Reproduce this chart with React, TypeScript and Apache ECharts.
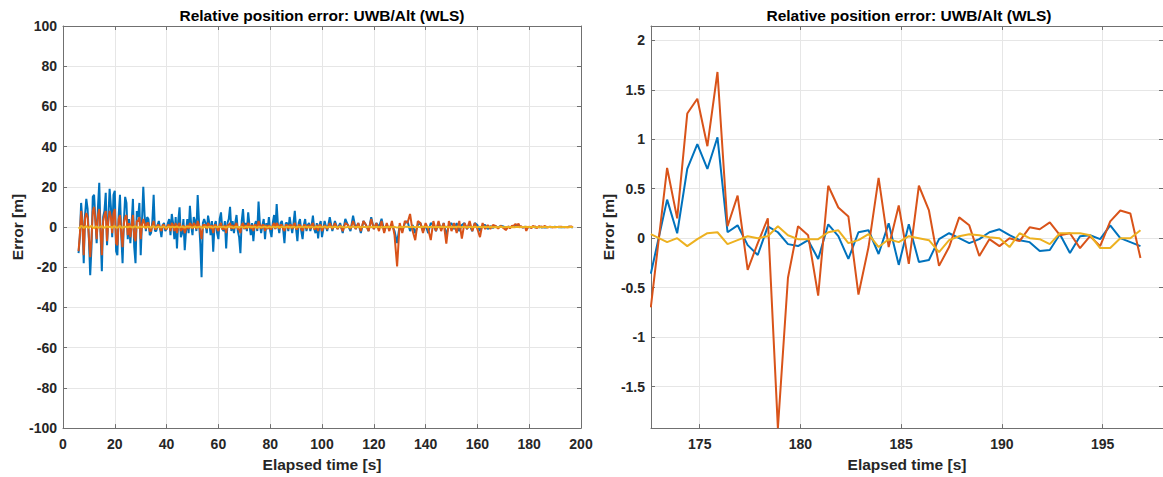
import React, { useEffect, useRef } from "react";
import * as echarts from "echarts";

// ---------- data ----------
const chartTitle = "Relative position error: UWB/Alt (WLS)";
const xName = "Elapsed time [s]";
const yName = "Error [m]";

// full run: 0.5 s samples from 6 to 99.5 s, then 1 s samples to 172 s
const runTime = [
  6, 6.5, 7, 7.5, 8, 8.5, 9, 9.5, 10, 10.5,
  11, 11.5, 12, 12.5, 13, 13.5, 14, 14.5, 15, 15.5,
  16, 16.5, 17, 17.5, 18, 18.5, 19, 19.5, 20, 20.5,
  21, 21.5, 22, 22.5, 23, 23.5, 24, 24.5, 25, 25.5,
  26, 26.5, 27, 27.5, 28, 28.5, 29, 29.5, 30, 30.5,
  31, 31.5, 32, 32.5, 33, 33.5, 34, 34.5, 35, 35.5,
  36, 36.5, 37, 37.5, 38, 38.5, 39, 39.5, 40, 40.5,
  41, 41.5, 42, 42.5, 43, 43.5, 44, 44.5, 45, 45.5,
  46, 46.5, 47, 47.5, 48, 48.5, 49, 49.5, 50, 50.5,
  51, 51.5, 52, 52.5, 53, 53.5, 54, 54.5, 55, 55.5,
  56, 56.5, 57, 57.5, 58, 58.5, 59, 59.5, 60, 60.5,
  61, 61.5, 62, 62.5, 63, 63.5, 64, 64.5, 65, 65.5,
  66, 66.5, 67, 67.5, 68, 68.5, 69, 69.5, 70, 70.5,
  71, 71.5, 72, 72.5, 73, 73.5, 74, 74.5, 75, 75.5,
  76, 76.5, 77, 77.5, 78, 78.5, 79, 79.5, 80, 80.5,
  81, 81.5, 82, 82.5, 83, 83.5, 84, 84.5, 85, 85.5,
  86, 86.5, 87, 87.5, 88, 88.5, 89, 89.5, 90, 90.5,
  91, 91.5, 92, 92.5, 93, 93.5, 94, 94.5, 95, 95.5,
  96, 96.5, 97, 97.5, 98, 98.5, 99, 99.5,
  100, 101, 102, 103, 104, 105,
  106, 107, 108, 109, 110, 111, 112, 113, 114, 115,
  116, 117, 118, 119, 120, 121, 122, 123, 124, 125,
  126, 127, 128, 129, 130, 131, 132, 133, 134, 135,
  136, 137, 138, 139, 140, 141, 142, 143, 144, 145,
  146, 147, 148, 149, 150, 151, 152, 153, 154, 155,
  156, 157, 158, 159, 160, 161, 162, 163, 164, 165,
  166, 167, 168, 169, 170, 171, 172,
];
const runBlue = [
  -13, -5, 12, 3, -18, 6, 14, 9, -6, -24,
  -10, 15, 16, 4, -8, 10, 22, -3, -22, 5,
  8, 17, -9, 4, 19, 10, -5, 16, 18, -12,
  -14, 6, 16, -4, -18, 3, 15, 12, -6, 4,
  -8, 2, 14, -10, -18, 8, 5, 12, -14, 3,
  20, 6, -2, 5, 4, -4, -3, 3, 16, -2,
  -2, 1, 3, -1, -5, 1, 2, -2, -1, 2,
  4, -4, 6.5, 2, -6, 5, -10.6, 3, 9.8, -5,
  -3, 4, -11.5, -2, 4, -3, 10.6, 1, -4, 5,
  3, -2, 15.9, 3, -8, -25, 2, 4, 2, -3,
  5.7, 2, -4, 3, -12.3, 1, 3, -3, -6, 4,
  7.3, -1, -2, 3, -10.6, 2, 4, 10.1, -2, 3,
  -3, 2, 6, -2, -5, -13, 3, 8.9, -1, 2,
  -2, 7.3, 1, -4, 2, -7, 1, 3, -2, 12.7,
  2, -3, 1, 4, -6, 2, -1, 5, -2, -5,
  2, 6, -1, 11.4, 1, -3, 2, 3, -1, -8,
  2, 2, -2, 5, 1, -3, 2, 8.1, -1, -7,
  2, 4, -2, -6, 1, 4, -2, 1, 2, -2,
  1, 5.7, -1, -3, 2, -5.7, 1, 3,
  -5, 3, -2, 4.9, -2, 3,
  -1, 2, -3, 4, 1, -2, 5.7, -1, 2, -3,
  3, 1, -2, 4.9, -1, 2, 0, 4.1, -2, 1,
  -1, 1, -2, -8, 1, -2, 2, 3, -2, 1,
  -3, 1, 2, -2, 1, -3, 2, 1, -2, 2,
  -1, 2, -4, 1, 2, -1, 2, -2, 1, 2,
  -1, 1, -2, 2, 1, -2, 1, 1, -1, 0.5,
  -0.5, 0.5, -0.3, 0.6, 0.3, -0.4, 0.2,
];
const runOrange = [
  -12, -4, 8, 2, -14, 4, 7, 5, -5, -15,
  -6, 8, 10, 3, -6, 6, 9, -2, -14, 3,
  6, 8, -7, 3, 8, 5, -3, 7, 9, -8,
  -9, 4, 6, -3, -10, 2, 5, 6, -4, 2,
  -5, 1, 6, -5, -7, 3, 3, 5, -6, 1,
  4, 2, -1, 2, 2, -2, -2, 1, 3, -1,
  -1, 1, 1, -1, -2, 1, 1, -1, -1, 1,
  1, -2, 2, 1, -2, 2, -3, 1, 2, -2,
  -1, 1, -3, -1, 1, -1, 2, 1, -1, 2,
  1, -1, 3, 1, -2, -6, 1, 1, 1, -1,
  2, 1, -1, 1, -3, 1, 1, -1, -2, 1,
  2, -1, -1, 1, -3, 1, 1, 2, -1, 1,
  -1, 1, 2, -1, -1, -3, 1, 2, -1, 1,
  -1, 2, 1, -1, 1, -2, 1, 1, -1, 3,
  1, -1, 1, 1, -2, 1, -1, 1, -1, -1,
  1, 2, -1, 2, 1, -1, 1, 1, -1, -2,
  1, 1, -1, 1, 1, -1, 1, 2, -1, -1,
  1, 1, -1, -2, 1, 1, -1, 0.5, 1, -1,
  1, 2, -1, -1, 1, -2, 1, 1,
  -2, 1, -1, 2, -1, 2,
  -1, 1, -2, 2, 1, -1, 3, -1, 2, -2,
  3, 1, -2, 4, -1, 2, -2, 3, -3, 2,
  -2, 3, -4, -19.6, 2, -3, 3, 2, 6.5, -2,
  -6.5, 3, 2, -3, 2, -1, -6.5, 3, -2, 3,
  -2, 2, -8.2, 3, -2, 2, -3, 3, -5.7, 2,
  -1, 3, -2, 2, -1, -5, 2, -1, 1, -1,
  1, 0.5, -0.8, 0.6, -0.5, -1.5, 0.4,
];
const runYellow = [
  -0.8, -0.3, 0.6, 0.2, -0.5, 0.1, 0.4, -0.2, -0.3, 0.3,
  0.5, -0.1, -0.6, 0.2, 0.3, -0.3, -0.2, 0.1, 0.5, -0.2,
  -0.4, 0.2, 0.3, -0.1, 0.2, 0.1, -0.5, 0.3, 0.4, -0.2,
  -0.3, 0.1, 0.6, -0.2, -0.4, 0.2, 0.2, 0.1, -0.2, 0.2,
  0.3, -0.1, -0.3, 0.2, 0.4, -0.1, -0.5, 0.2, 0.2, -0.1,
  0.3, 0.1, -0.2, 0.1, 0.1, -0.1, -0.3, 0.2, 0.4, -0.1,
  -0.2, 0.1, 0.2, -0.1, -0.1, 0.1, 0.3, -0.2, -0.3, 0.1,
  0.2, -0.1, 0.1, 0.1, -0.2, 0.1, 0.3, -0.1, -0.2, 0.1,
  0.2, -0.1, -0.3, 0.1, 0.1, 0.1, 0.2, -0.1, -0.2, 0.1,
  0.3, -0.1, -0.1, 0.1, 0.2, -0.1, -0.4, 0.1, 0.2, -0.1,
  -0.1, 0.1, 0.2, -0.1, -0.2, 0.1, 0.1, -0.1, 0.2, 0.1,
  -0.2, 0.1, 0.1, -0.1, -0.3, 0.1, 0.2, 0.1, 0.1, -0.1,
  -0.2, 0.1, 0.2, -0.1, -0.1, 0.1, 0.1, -0.1, -0.2, 0.1,
  0.2, -0.1, 0.1, 0.1, -0.1, 0.1, 0.2, -0.1, -0.2, 0.1,
  0.1, -0.1, -0.1, 0.1, 0.2, -0.1, -0.2, 0.1, 0.1, -0.1,
  0.1, 0.1, -0.2, 0.1, 0.2, -0.1, -0.1, 0.1, 0.1, -0.1,
  -0.1, 0.1, 0.2, -0.1, -0.1, 0.1, 0.1, -0.1, -0.2, 0.1,
  0.1, -0.1, 0.1, 0.1, -0.1, 0.1, 0.2, -0.1, -0.1, 0.1,
  0.1, -0.1, -0.2, 0.1, 0.1, -0.1, 0.1, 0.1,
  -0.1, 0.2, -0.1, 0.1, -0.1, 0.1,
  -0.1, 0.1, 0.1, -0.2, 0.1, -0.1, 0.2, -0.1, 0.1, -0.1,
  0.1, -0.1, 0.2, -0.1, 0.1, -0.1, 0.1, -0.2, 0.1, -0.1,
  0.1, -0.1, 0.1, -0.3, 0.1, -0.1, 0.1, 0.1, -0.1, 0.1,
  -0.1, 0.1, -0.1, 0.1, 0.1, -0.1, 0.1, -0.1, 0.1, -0.1,
  0.1, -0.1, 0.1, -0.1, 0.1, -0.1, 0.1, 0.1, -0.1, 0.1,
  -0.1, 0.1, -0.1, 0.1, -0.1, 0.1, -0.1, 0.1, -0.1, 0.1,
  -0.1, 0.05, -0.05, 0.1, -0.05, 0.05, 0.03,
];

// end of run, shown enlarged on the right (0.5 s samples)
const tailTime = [
  172.57, 173.38, 173.88, 174.38, 174.88, 175.38, 175.88, 176.38, 176.88, 177.38,
  177.88, 178.38, 178.88, 179.38, 179.88, 180.38, 180.88, 181.38, 181.88, 182.38,
  182.88, 183.38, 183.88, 184.38, 184.88, 185.38, 185.88, 186.38, 186.88, 187.38,
  187.88, 188.38, 188.88, 189.38, 189.88, 190.38, 190.88, 191.38, 191.88, 192.38,
  192.88, 193.38, 193.88, 194.38, 194.88, 195.38, 195.88, 196.38, 196.88,
];
const tailBlue = [
  -0.36, 0.39, 0.05, 0.7, 0.95, 0.7, 1.02, 0.06, 0.13, -0.07,
  -0.17, 0.12, 0.06, -0.06, -0.08, -0.02, -0.21, 0.14, 0.02, -0.21,
  0.06, 0.08, -0.16, 0.15, -0.27, 0.14, -0.24, -0.22, -0.01, 0.05,
  0.0, -0.05, -0.01, 0.06, 0.09, 0.03, -0.02, -0.04, -0.13, -0.12,
  0.04, -0.15, 0.02, 0.03, -0.01, 0.13, 0.0, -0.04, -0.08,
];
const tailOrange = [
  -0.7, 0.71, 0.2, 1.26, 1.41, 0.93, 1.68, 0.12, 0.43, -0.32,
  -0.05, 0.2, -1.92, -0.4, 0.12, 0.03, -0.58, 0.53, 0.31, 0.22,
  -0.57, -0.09, 0.61, -0.09, 0.33, -0.26, 0.53, 0.28, -0.28, -0.09,
  0.21, 0.13, -0.18, -0.01, -0.08, 0.0, -0.03, 0.11, 0.09, 0.16,
  0.03, 0.05, -0.1, 0.02, -0.08, 0.17, 0.28, 0.25, -0.2,
];
const tailYellow = [
  0.04, -0.04, 0.0, -0.08, -0.01, 0.05, 0.06, -0.06, -0.02, 0.02,
  0.0, 0.02, 0.12, 0.03, -0.01, -0.01, -0.01, 0.06, 0.08, -0.05,
  -0.02, 0.04, -0.09, -0.01, -0.04, 0.02, 0.0, -0.02, -0.14, -0.02,
  0.02, 0.04, 0.03, 0.01, 0.0, -0.09, 0.05, 0.0, -0.01, -0.06,
  0.05, 0.05, 0.05, 0.03, -0.1, -0.1, 0.0, 0.0, 0.08,
];

const zoomXTicks = [175, 180, 185, 190, 195];
const zoomYTicks = [-1.5, -1, -0.5, 0, 0.5, 1, 1.5, 2];

// ---------- styling ----------
const BLUE = "#0072BD";
const ORANGE = "#D95319";
const YELLOW = "#EDB120";
const FONT = "'Liberation Sans', Arial, Helvetica, sans-serif";
const AXIS_COLOR = "#707070";
const TEXT_COLOR = "#262626";

const pairs = (t: number[], v: number[]) => t.map((x, i) => [x, v[i]]);

export default function App() {
  const ref = useRef<HTMLDivElement>(null);

  useEffect(() => {
    if (!ref.current) return;
    const chart = echarts.init(ref.current, null, { renderer: "svg" });

    const axisLine = { show: true, onZero: false, lineStyle: { color: AXIS_COLOR, width: 1 } };
    const axisTick = { show: true, inside: true, length: 4, lineStyle: { color: AXIS_COLOR, width: 1 } };
    const splitLine = { show: true, lineStyle: { color: "#e6e6e6", width: 1 } };
    const label = {
      color: TEXT_COLOR,
      fontFamily: FONT,
      fontWeight: "bold" as const,
      fontSize: 14,
    };
    const nameStyle = {
      color: TEXT_COLOR,
      fontFamily: FONT,
      fontWeight: "bold" as const,
      fontSize: 15.5,
    };

    const fullT = runTime.concat(tailTime);
    const fullB = runBlue.concat(tailBlue);
    const fullO = runOrange.concat(tailOrange);
    const fullY = runYellow.concat(tailYellow);

    const lineSeries = (name: string, idx: number, data: number[][], color: string) => ({
      name,
      type: "line",
      xAxisIndex: idx,
      yAxisIndex: idx,
      data,
      showSymbol: false,
      symbol: "none",
      lineStyle: { color, width: 2 },
      itemStyle: { color },
      clip: true,
    });

    const zMinX = 172.58;
    const zMaxX = 198.0;
    const zMinY = -1.92;
    const zMaxY = 2.145;

    chart.setOption({
      animation: false,
      grid: [
        { left: 63, top: 26, width: 518, height: 407 },
        { left: 651, top: 26, width: 516, height: 407 },
      ],
      xAxis: [
        {
          gridIndex: 0, type: "value", position: "bottom", min: 0, max: 200, interval: 20,
          axisLine, axisTick, splitLine,
          axisLabel: { ...label, margin: 9 },
          name: xName, nameLocation: "middle", nameGap: 19, nameTextStyle: nameStyle,
        },
        {
          gridIndex: 0, type: "value", position: "top", min: 0, max: 200, interval: 20,
          axisLine, axisTick, splitLine: { show: false }, axisLabel: { show: false },
        },
        {
          gridIndex: 1, type: "value", position: "bottom", min: zMinX, max: zMaxX,
          axisLine, splitLine,
          axisTick: { ...axisTick, customValues: zoomXTicks },
          axisLabel: { ...label, margin: 9, customValues: zoomXTicks },
          name: xName, nameLocation: "middle", nameGap: 19, nameTextStyle: nameStyle,
        },
        {
          gridIndex: 1, type: "value", position: "top", min: zMinX, max: zMaxX,
          axisLine, splitLine: { show: false }, axisLabel: { show: false },
          axisTick: { ...axisTick, customValues: zoomXTicks },
        },
      ],
      yAxis: [
        {
          gridIndex: 0, type: "value", position: "left", min: -100, max: 100, interval: 20,
          axisLine, axisTick, splitLine,
          axisLabel: { ...label, margin: 6 },
          name: yName, nameLocation: "middle", nameGap: 36, nameRotate: 90, nameTextStyle: nameStyle,
        },
        {
          gridIndex: 0, type: "value", position: "right", min: -100, max: 100, interval: 20,
          axisLine, axisTick, splitLine: { show: false }, axisLabel: { show: false },
        },
        {
          gridIndex: 1, type: "value", position: "left", min: zMinY, max: zMaxY,
          axisLine, splitLine,
          axisTick: { ...axisTick, customValues: zoomYTicks },
          axisLabel: { ...label, margin: 6, customValues: zoomYTicks },
          name: yName, nameLocation: "middle", nameGap: 33, nameRotate: 90, nameTextStyle: nameStyle,
        },
        {
          gridIndex: 1, type: "value", position: "right", min: zMinY, max: zMaxY,
          axisLine, splitLine: { show: false }, axisLabel: { show: false },
          axisTick: { ...axisTick, customValues: zoomYTicks },
        },
      ],
      graphic: [
        {
          type: "text", x: 322, y: 15,
          style: {
            text: chartTitle, textAlign: "center", textVerticalAlign: "middle", verticalAlign: "middle",
            fontFamily: FONT, fontWeight: "bold", fontSize: 15.5, fill: "#000",
          },
        },
        {
          type: "text", x: 909, y: 15,
          style: {
            text: chartTitle, textAlign: "center", textVerticalAlign: "middle", verticalAlign: "middle",
            fontFamily: FONT, fontWeight: "bold", fontSize: 15.5, fill: "#000",
          },
        },
      ],
      series: [
        lineSeries("x", 0, pairs(fullT, fullB), BLUE),
        lineSeries("y", 0, pairs(fullT, fullO), ORANGE),
        lineSeries("z", 0, pairs(fullT, fullY), YELLOW),
        lineSeries("x", 2, pairs(tailTime, tailBlue), BLUE),
        lineSeries("y", 2, pairs(tailTime, tailOrange), ORANGE),
        lineSeries("z", 2, pairs(tailTime, tailYellow), YELLOW),
      ],
    });

    return () => chart.dispose();
  }, []);

  return (
    <div
      ref={ref}
      style={{ position: "fixed", left: 0, top: 0, width: 1163, height: 477, background: "#fff" }}
    />
  );
}
